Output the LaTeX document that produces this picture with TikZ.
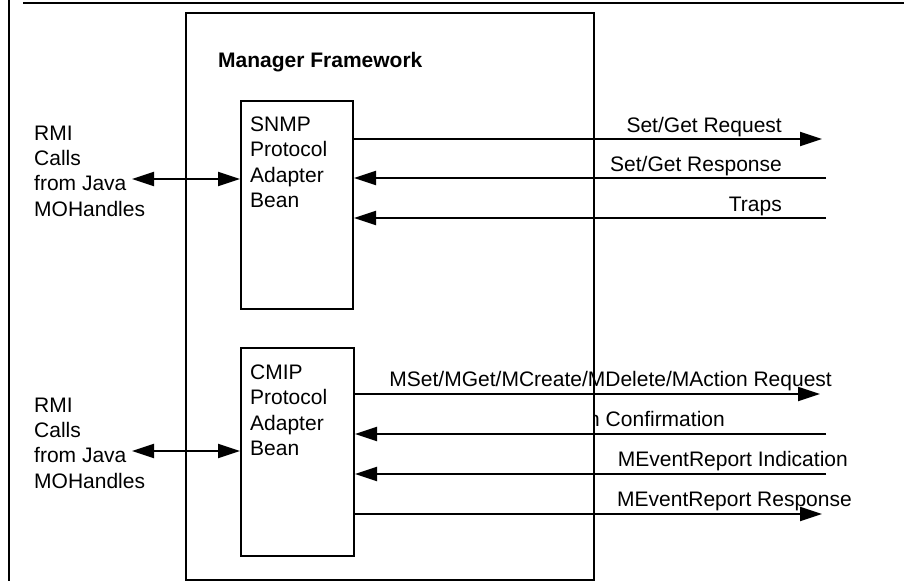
\documentclass[tikz,border=0pt]{standalone}
\usepackage{fontspec}
\setmainfont{Liberation Sans}
\usetikzlibrary{arrows.meta}
\begin{document}
\begin{tikzpicture}[x=1pt,y=-1pt,
  box/.style={draw, line width=2pt, inner sep=0pt, anchor=north west},
  lbl/.style={inner sep=0pt, font=\fontsize{21}{25.4}\selectfont},
  txt/.style={inner sep=0pt, align=left, anchor=north west, font=\fontsize{21}{25.4}\selectfont},
  link/.style={line width=2pt, -{Triangle[length=22pt,width=14pt]}},
  both/.style={line width=2pt, {Triangle[length=22pt,width=14pt]}-{Triangle[length=22pt,width=14pt]}}]
\useasboundingbox (0,0) rectangle (904,581);

% page frame
\draw[line width=2pt] (9,0) -- (9,581);
\draw[line width=2.5pt] (23,3) -- (904,3);

% framework and adapter beans
\node[box, minimum width=408pt, minimum height=567pt] (mf) at (185,12) {};
\node[box, minimum width=112pt, minimum height=208pt] (snmp) at (240,100) {};
\node[box, minimum width=113pt, minimum height=208pt] (cmip) at (240,347) {};

\node[lbl, font=\bfseries\fontsize{21}{25.4}\selectfont, anchor=base west] (mftitle) at (218,67) {Manager Framework};
\node[txt] (snmptext) at (250,116.5) {SNMP\\Protocol\\Adapter\\Bean};
\node[txt] (cmiptext) at (250,364.5) {CMIP\\Protocol\\Adapter\\Bean};

% RMI clients
\node[txt] (rmitextA) at (34,125.5) {RMI\\Calls\\from Java\\MOHandles};
\node[txt] (rmitextB) at (34,397.5) {RMI\\Calls\\from Java\\MOHandles};
\coordinate (rmiA) at (132,179);
\coordinate (rmiB) at (132,451);
\draw[both] (rmiA) -- (snmp.west |- rmiA);
\draw[both] (rmiB) -- (cmip.west |- rmiB);

% SNMP messages
\coordinate (sreq) at (822,139);
\coordinate (sresp) at (826,178);
\coordinate (strap) at (826,218);
\draw[link] (snmp.east |- sreq) -- (sreq);
\draw[link] (sresp) -- (snmp.east |- sresp);
\draw[link] (strap) -- (snmp.east |- strap);
\node[lbl, anchor=base east] (sreqlbl) at (782,132) {Set/Get Request};
\node[lbl, anchor=base east] (sresplbl) at (782,171) {Set/Get Response};
\node[lbl, anchor=base east] (straplbl) at (782,211) {Traps};

% CMIP messages
\coordinate (creq) at (820,394);
\coordinate (cconf) at (826,434);
\coordinate (cind) at (826,474);
\coordinate (cresp) at (822,514);
\draw[link] (cmip.east |- creq) -- (creq);
\draw[link] (cconf) -- (cmip.east |- cconf);
\draw[link] (cind) -- (cmip.east |- cind);
\draw[link] (cmip.east |- cresp) -- (cresp);
\node[lbl, anchor=base east] (creqlbl) at (832,386) {MSet/MGet/MCreate/MDelete/MAction Request};
\begin{scope}
  \clip (594.5,400) rectangle (904,440);
  \node[lbl, anchor=base east] (cconflbl) at (725,426) {MAction Confirmation};
\end{scope}
\node[lbl, anchor=base east] (cindlbl) at (848,466) {MEventReport Indication};
\node[lbl, anchor=base east] (cresplbl) at (852,506) {MEventReport Response};
\end{tikzpicture}
\end{document}
